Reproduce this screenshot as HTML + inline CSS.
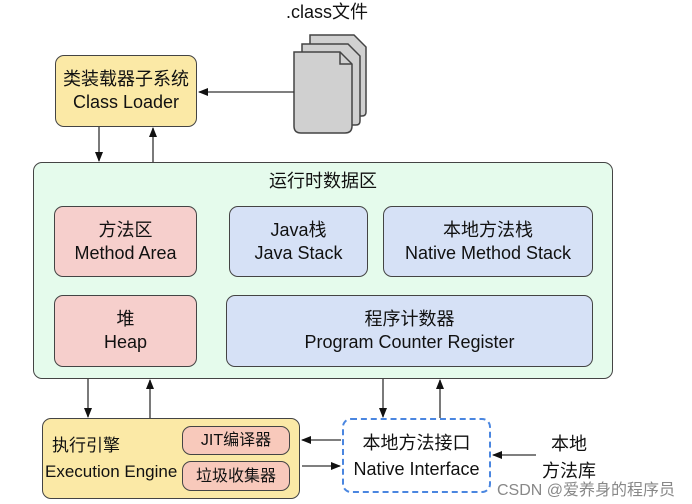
<!DOCTYPE html>
<html><head><meta charset="utf-8"><style>
body{margin:0;background:#fff;width:692px;height:504px;position:relative;overflow:hidden;font-family:"Liberation Sans","Noto Sans CJK SC",sans-serif;color:#111}
.b{position:absolute;box-sizing:border-box;border:1.5px solid #444;border-radius:9px;display:flex;flex-direction:column;align-items:center;justify-content:center;font-size:18px;line-height:23px;text-align:center}
.y{background:#fbe9a6}.r{background:#f6cfcc}.bl{background:#d6e1f6}.g{background:#e5fbec}.s{background:#f8c9bb}
.t{position:absolute;font-size:18px}
</style></head><body>
<div class="t" style="left:286px;top:-2px;">.class文件</div>
<div class="b y" style="left:55px;top:55px;width:142px;height:72px;">类装载器子系统<br>Class Loader</div>
<div class="b g" style="left:33px;top:162px;width:580px;height:217px;justify-content:flex-start;padding-top:7px;">运行时数据区</div>
<div class="b r" style="left:54px;top:206px;width:143px;height:71px;">方法区<br>Method Area</div>
<div class="b bl" style="left:229px;top:206px;width:139px;height:71px;">Java栈<br>Java Stack</div>
<div class="b bl" style="left:383px;top:206px;width:210px;height:71px;">本地方法栈<br>Native Method Stack</div>
<div class="b r" style="left:54px;top:295px;width:143px;height:72px;">堆<br>Heap</div>
<div class="b bl" style="left:226px;top:295px;width:367px;height:72px;">程序计数器<br>Program Counter Register</div>
<div class="b y" style="left:42px;top:418px;width:258px;height:81px;align-items:flex-start;padding-left:2px;font-size:17px;line-height:26px;"><span style="margin-left:7px">执行引擎</span><span>Execution Engine</span></div>
<div class="b s" style="left:182px;top:426px;width:108px;height:29px;font-size:16px;">JIT编译器</div>
<div class="b s" style="left:182px;top:461px;width:108px;height:30px;font-size:16px;">垃圾收集器</div>
<div class="b" style="left:342px;top:418px;width:149px;height:75px;border:2px dashed #4a86e0;background:#fff;line-height:26px;">本地方法接口<br>Native Interface</div>
<div class="t" style="left:542px;top:431px;line-height:27px;text-align:center;">本地<br>方法库</div>
<div class="t" style="left:497px;top:476px;font-size:16px;color:#888;">CSDN @爱养身的程序员</div>
<svg width="692" height="504" style="position:absolute;left:0;top:0" fill="none" stroke="#333" stroke-width="1.3">
<defs><marker id="a" markerWidth="10" markerHeight="10" refX="9" refY="5" orient="auto" markerUnits="userSpaceOnUse"><path d="M0,1 L10,5 L0,9z" fill="#111" stroke="none"/></marker></defs>
<g fill="#d0d0d0" stroke="#444" stroke-width="1.5">
<path d="M310,35 H354 L366,47 V112 Q366,116 362,116 H314 Q310,116 310,112 Z"/>
<path d="M302,44 H348 L360,56 V121 Q360,125 356,125 H306 Q302,125 302,121 Z"/>
<path d="M294,52 H340 L352,64 V126 Q352,133 345,133 H301 Q294,133 294,126 Z"/>
<path d="M340,52 V64 H352" fill="none"/>
</g>
<line x1="294" y1="92" x2="199" y2="92" marker-end="url(#a)"/>
<line x1="99" y1="127" x2="99" y2="161" marker-end="url(#a)"/>
<line x1="153" y1="162" x2="153" y2="128" marker-end="url(#a)"/>
<line x1="88" y1="379" x2="88" y2="417" marker-end="url(#a)"/>
<line x1="150" y1="418" x2="150" y2="380" marker-end="url(#a)"/>
<line x1="383" y1="379" x2="383" y2="417" marker-end="url(#a)"/>
<line x1="440" y1="418" x2="440" y2="380" marker-end="url(#a)"/>
<line x1="341" y1="440" x2="302" y2="440" marker-end="url(#a)"/>
<line x1="302" y1="466" x2="340" y2="466" marker-end="url(#a)"/>
<line x1="536" y1="455" x2="493" y2="455" marker-end="url(#a)"/>
</svg>
</body></html>
